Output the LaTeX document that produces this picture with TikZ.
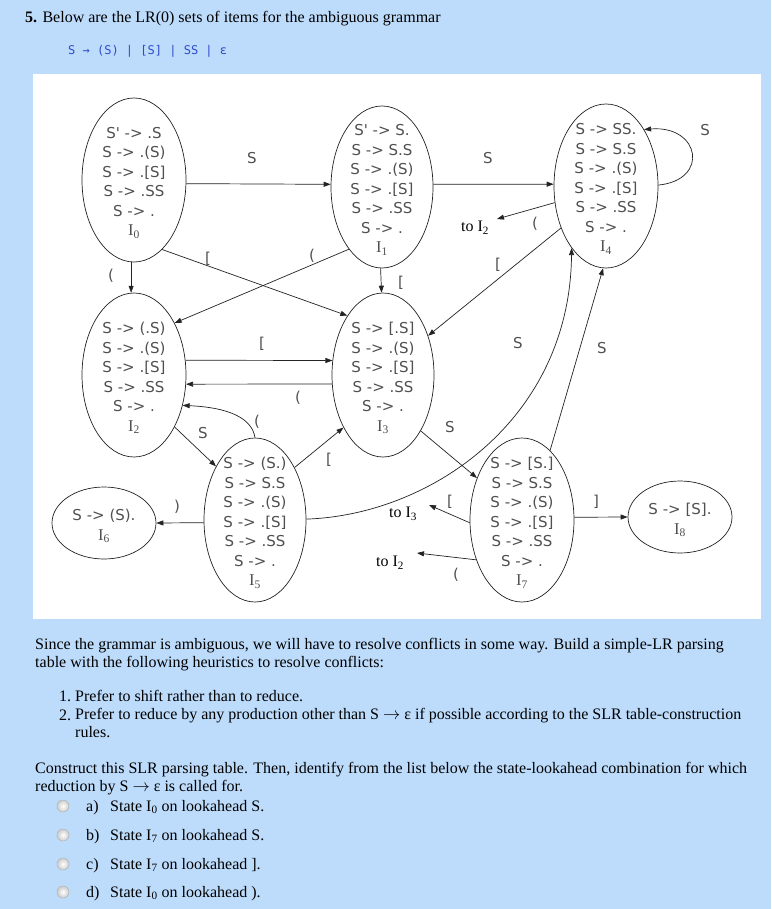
\documentclass[tikz,border=0pt]{standalone}
\usepackage{fontspec}
\setmainfont{Liberation Serif}
\newfontfamily\itemfont{DejaVu Sans}
\newfontfamily\gramfont{DejaVu Sans Mono}
\usetikzlibrary{shapes.geometric,arrows.meta,calc}
\definecolor{pagebg}{RGB}{189,220,251}
\definecolor{itemgray}{RGB}{80,80,80}
\definecolor{linegray}{RGB}{35,35,35}
\definecolor{gramblue}{RGB}{45,75,205}
\newcommand\ilab[1]{{\rmfamily\fontsize{16.5}{19.5}\selectfont I\textsubscript{#1}}}
\newcommand\myarrow{\(\rightarrow\)}
\begin{document}
\begin{tikzpicture}[x=1pt,y=-1pt,
  lrstate/.style={draw=linegray, line width=0.7pt, ellipse, inner sep=0pt},
  bigstate/.style={lrstate, minimum width=104pt, minimum height=164pt},
  smallstate/.style={lrstate, minimum width=104pt, minimum height=72pt},
  itemtxt/.style={font=\itemfont\fontsize{15}{19.5}\selectfont, text=itemgray, align=center, inner sep=0pt},
  elab/.style={font=\itemfont\fontsize{15}{17}\selectfont, text=itemgray, inner sep=0pt},
  tolab/.style={font=\fontsize{16}{18}\selectfont, inner sep=0pt},
  conn/.style={draw=linegray, line width=0.7pt, -{Triangle[length=7pt,width=5pt]}},
  ptext/.style={font=\fontsize{16}{18}\selectfont, anchor=base west, inner sep=0pt},
  pblock/.style={font=\fontsize{16}{18}\selectfont, anchor=north west, align=left, inner sep=0pt},
  radiob/.style={circle, draw=gray!60, line width=0.5pt, inner sep=0pt, minimum size=12pt, shade, inner color=white, outer color=gray!40}]
\useasboundingbox (0,0) rectangle (771,909);
\fill[pagebg] (0,0) rectangle (771,909);
\fill[white] (33,74) rectangle (761,619);

% header
\node[ptext] (hd) at (25,23) {\textbf{5.} Below are the LR(0) sets of items for the ambiguous grammar};
\node[ptext, font=\gramfont\fontsize{12}{14}\selectfont, text=gramblue] (gr) at (68,55) {S → (S) | [S] | SS | ε};

% states
\node[bigstate] (I0) at (134,180) {};
\node[bigstate, minimum width=102pt, minimum height=162pt] (I1) at (382,187) {};
\node[bigstate] (I4) at (606,186) {};
\node[bigstate] (I2) at (134,375) {};
\node[bigstate, minimum width=102pt] (I3) at (383,375) {};
\node[bigstate, minimum width=102pt] (I5) at (255,520) {};
\node[smallstate] (I6) at (104,523) {};
\node[bigstate] (I7) at (522,520) {};
\node[smallstate] (I8) at (680,517) {};

\node[itemtxt] (I0t) at (134,183) {S' -> .S\\S -> .(S)\\S -> .[S]\\S -> .SS\\S -> .\\\ilab{0}};
\node[itemtxt] (I1t) at (382,190) {S' -> S.\\S -> S.S\\S -> .(S)\\S -> .[S]\\S -> .SS\\S -> .\\\ilab{1}};
\node[itemtxt] (I4t) at (606,189) {S -> SS.\\S -> S.S\\S -> .(S)\\S -> .[S]\\S -> .SS\\S -> .\\\ilab{4}};
\node[itemtxt] (I2t) at (134,378) {S -> (.S)\\S -> .(S)\\S -> .[S]\\S -> .SS\\S -> .\\\ilab{2}};
\node[itemtxt] (I3t) at (383,378) {S -> [.S]\\S -> .(S)\\S -> .[S]\\S -> .SS\\S -> .\\\ilab{3}};
\node[itemtxt] (I5t) at (255,523) {S -> (S.)\\S -> S.S\\S -> .(S)\\S -> .[S]\\S -> .SS\\S -> .\\\ilab{5}};
\node[itemtxt] (I6t) at (104,526) {S -> (S).\\\ilab{6}};
\node[itemtxt] (I7t) at (522,523) {S -> [S.]\\S -> S.S\\S -> .(S)\\S -> .[S]\\S -> .SS\\S -> .\\\ilab{7}};
\node[itemtxt] (I8t) at (680,520) {S -> [S].\\\ilab{8}};

% free-end targets
\node[tolab] (toA) at (475,228) {to I\textsubscript{2}};
\coordinate (toAend) at (497,219);
\node[tolab] (toB) at (403,514) {to I\textsubscript{3}};
\coordinate (toBend) at (429,505);
\node[tolab] (toC) at (390,563) {to I\textsubscript{2}};
\coordinate (toCend) at (417,553);

% connectors
\draw[conn] (I0.-4) -- (I1.177);
\draw[conn] (I1.3) -- (I4.178);
\draw[conn] (I4.1) .. controls (710,180) and (700,125) .. (I4.56);
\draw[conn] (I0.-92) -- (I2.92);
\draw[conn] (I1.-91) -- (I3.91);
\draw[conn] (I0.-68) -- (I3.121);
\draw[conn] (I1.242) -- (I2.52);
\draw[conn] (I4.223) -- (I3.41);
\draw[conn] (I4.198) -- (toAend);
\draw[conn] (I2.16) -- (I3.164);
\draw[conn] (I3.190) -- (I2.-10);
\draw[conn] (I5.90) .. controls +(-3,-20) and +(45,2) .. (I2.-32);
\draw[conn] (I2.-52) -- (I5.126);
\draw[conn] (I5.53) -- (I3.233);
\draw[conn] (I3.-56) -- (I7.137);
\draw[conn] (I5.1) .. controls (430,515) and (570,420) .. (I4.241);
\draw[conn] (I7.68) -- (I4.-92);
\draw[conn] (I5.183) -- (I6.0);
\draw[conn] (I7.3) -- (I8.180);
\draw[conn] (I7.183) -- (toBend);
\draw[conn] (I7.221) -- (toCend);

% edge labels
\node[elab] (l1) at (252,158) {S};
\node[elab] (l2) at (488,158) {S};
\node[elab] (l3) at (705,130) {S};
\node[elab] (l4) at (111,276) {(};
\node[elab] (l5) at (401,283) {[};
\node[elab] (l6) at (208,259) {[};
\node[elab] (l7) at (312,256) {(};
\node[elab] (l8) at (498,265) {[};
\node[elab] (l9) at (535,224) {(};
\node[elab] (l10) at (262,344) {[};
\node[elab] (l11) at (298,398) {(};
\node[elab] (l12) at (257,422) {(};
\node[elab] (l13) at (203,433) {S};
\node[elab] (l14) at (329,460) {[};
\node[elab] (l15) at (450,427) {S};
\node[elab] (l16) at (518,343) {S};
\node[elab] (l17) at (602,348) {S};
\node[elab] (l18) at (177,507) {)};
\node[elab] (l19) at (596,502) {]};
\node[elab] (l20) at (450,502) {[};
\node[elab] (l21) at (456,575) {(};

% text below
\node[pblock] (p1) at (35,638.5) {Since the grammar is ambiguous, we will have to resolve conflicts in some way. Build a simple-LR parsing\\table with the following heuristics to resolve conflicts:};
\node[ptext] (n1) at (59,701) {1.};
\node[ptext] (q1) at (75,701) {Prefer to shift rather than to reduce.};
\node[ptext] (n2) at (59,720) {2.};
\node[pblock] (q2) at (75,708.5) {Prefer to reduce by any production other than S \myarrow{} ε if possible according to the SLR table-construction\\rules.};
\node[pblock] (p3) at (35,762.5) {Construct this SLR parsing table. Then, identify from the list below the state-lookahead combination for which\\reduction by S \myarrow{} ε is called for.};

\node[radiob] (ra) at (63,806) {};
\node[radiob] (rb) at (63,835) {};
\node[radiob] (rc) at (63,864) {};
\node[radiob] (rd) at (63,892) {};
\node[ptext] (la) at (86,811) {a)};
\node[ptext] (lb) at (86,840) {b)};
\node[ptext] (lc) at (86,869) {c)};
\node[ptext] (ld) at (86,897) {d)};
\node[ptext] (oa) at (110,811) {State I\textsubscript{0} on lookahead S.};
\node[ptext] (ob) at (110,840) {State I\textsubscript{7} on lookahead S.};
\node[ptext] (oc) at (110,869) {State I\textsubscript{7} on lookahead ].};
\node[ptext] (od) at (110,897) {State I\textsubscript{0} on lookahead ).};
\end{tikzpicture}
\end{document}
